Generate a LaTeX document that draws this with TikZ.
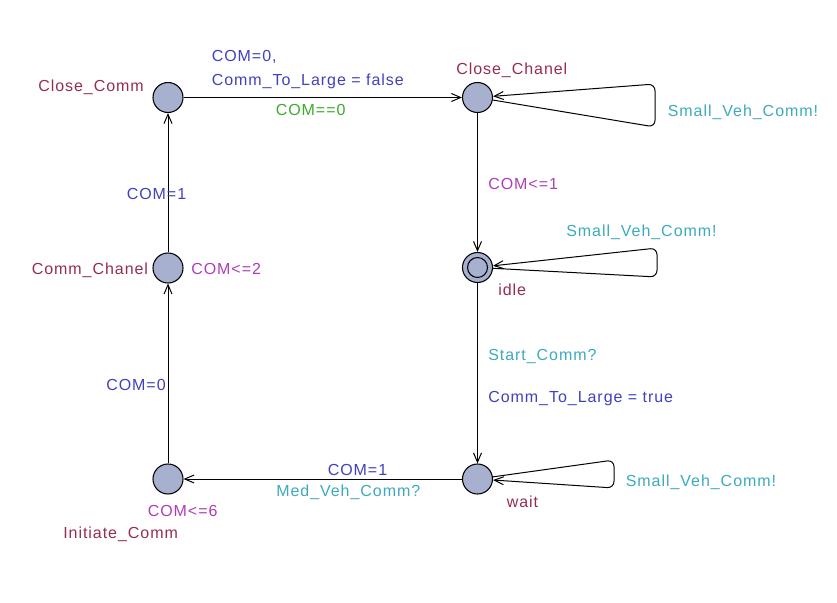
\documentclass[tikz,border=0pt]{standalone}
\usepackage{fontspec}
\setmainfont[LetterSpace=6]{Liberation Sans}
\usepackage{xcolor}
\usepackage{tikz}
\usetikzlibrary{arrows.meta}

\definecolor{locfill}{RGB}{168,176,208}
\definecolor{namecol}{RGB}{150,45,80}
\definecolor{invcol}{RGB}{175,60,185}
\definecolor{updcol}{RGB}{65,65,190}
\definecolor{grdcol}{RGB}{60,170,45}
\definecolor{synccol}{RGB}{60,170,190}

\tikzset{
  loc/.style={circle,draw,fill=locfill,minimum size=22.5pt,inner sep=0pt,line width=0.8pt},
  edge/.style={-{Straight Barb[length=7pt,width=6pt]},line width=0.75pt},
  lbl/.style={anchor=west,inner sep=0pt,text height=8.6pt,text depth=0pt,font=\fontsize{12pt}{14pt}\selectfont},
  locname/.style={lbl,text=namecol},
  inv/.style={lbl,text=invcol},
  upd/.style={lbl,text=updcol},
  grd/.style={lbl,text=grdcol},
  sync/.style={lbl,text=synccol}
}

\begin{document}
\begin{tikzpicture}[x=0.75pt,y=0.75pt,yscale=-1,xscale=1]
\useasboundingbox (0,0) rectangle (837,602);

\node [loc] (closecomm) at (168,97.5) {};
\node [loc] (closechanel) at (477.5,97.5) {};
\node [loc] (idle) at (477.5,267.5) {};
\draw [line width=0.8pt] (idle.center) circle (7.5pt);
\node [loc] (wait) at (477.5,479) {};
\node [loc] (initiate) at (168,479) {};
\node [loc] (commchanel) at (168,268) {};

\draw [edge] (closecomm) -- (closechanel);
\draw [edge] (closechanel) -- (idle);
\draw [edge] (idle) -- (wait);
\draw [edge] (wait) -- (initiate);
\draw [edge] (initiate) -- (commchanel);
\draw [edge] (commchanel) -- (closecomm);

\draw [edge,rounded corners=5pt] (closechanel) -- (655,127) -- (655,84) -- (closechanel);
\draw [edge,rounded corners=5pt] (idle) -- (657,277) -- (657,248) -- (idle);
\draw [edge,rounded corners=5pt] (wait) -- (614,460) -- (614,488) -- (wait);

\node [locname] (n1) at (38,85.5) {Close\_Comm};
\node [locname] (n2) at (456,68.5) {Close\_Chanel};
\node [locname] (n3) at (498,290) {idle};
\node [locname] (n4) at (506.5,502) {wait};
\node [locname] (n5) at (63,533) {Initiate\_Comm};
\node [locname] (n6) at (31.5,269) {Comm\_Chanel};

\node [inv] (i1) at (191,269) {COM<=2};
\node [inv] (i2) at (147.5,511) {COM<=6};
\node [inv] (i3) at (488,184) {COM<=1};

\node [upd] (u1) at (211.5,56) {COM=0,};
\node [upd] (u2) at (211.5,79.5) {Comm\_To\_Large = false};
\node [grd] (g1) at (275.5,109.5) {COM==0};

\node [sync] (s1) at (667.5,110.5) {Small\_Veh\_Comm!};
\node [sync] (s2) at (566,231) {Small\_Veh\_Comm!};
\node [sync] (s3) at (625.5,480.5) {Small\_Veh\_Comm!};

\node [sync] (s4) at (488,354.5) {Start\_Comm?};
\node [upd] (u3) at (488,396.5) {Comm\_To\_Large = true};

\node [upd] (u4) at (327.5,470) {COM=1};
\node [sync] (s5) at (276,491) {Med\_Veh\_Comm?};

\node [upd] (u5) at (106,385) {COM=0};
\node [upd] (u6) at (126.5,194) {COM=1};
\end{tikzpicture}
\end{document}
